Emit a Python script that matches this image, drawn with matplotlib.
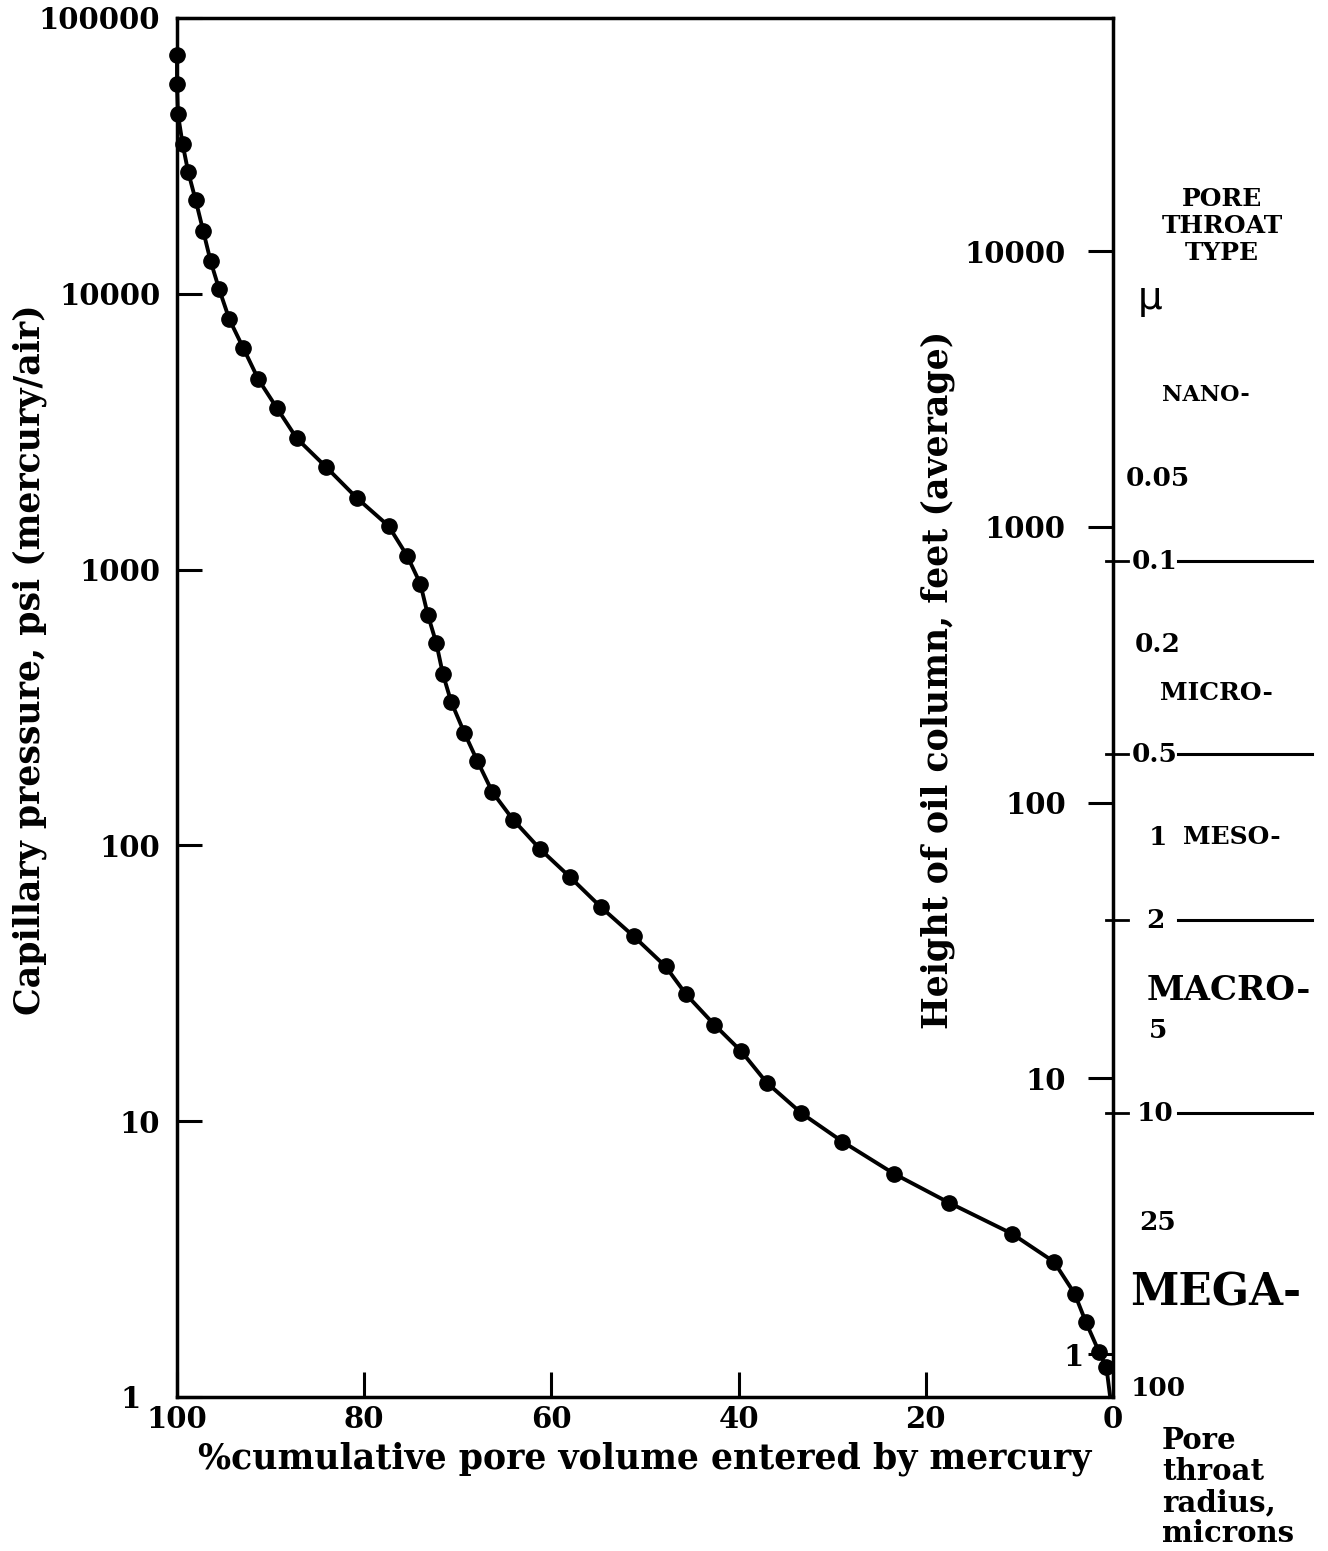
import matplotlib
matplotlib.use("Agg")
import matplotlib.pyplot as plt
import matplotlib.transforms as mtransforms
from matplotlib.lines import Line2D

# ---------------- data ----------------
saturation = [100, 100, 99.9, 99.4, 98.8, 98.0, 97.2, 96.4, 95.5, 94.4, 92.9, 91.3,
              89.3, 87.2, 84.1, 80.8, 77.4, 75.4, 74.0, 73.2, 72.3, 71.6, 70.7, 69.3,
              67.9, 66.3, 64.1, 61.2, 58.0, 54.7, 51.2, 47.8, 45.6, 42.6, 39.7, 37.0,
              33.3, 28.9, 23.4, 17.5, 10.8, 6.3, 4.1, 2.9, 1.5, 0.7, 0.3]
pressure = [73400, 57600, 44800, 34900, 27600, 21800, 16900, 13100, 10400, 8070, 6340,
            4890, 3840, 2990, 2360, 1820, 1440, 1120, 888, 685, 542, 419, 331, 256,
            202, 156, 124, 96.9, 76.7, 59.7, 46.8, 36.4, 28.8, 22.4, 17.9, 13.8,
            10.7, 8.43, 6.45, 5.06, 3.91, 3.09, 2.37, 1.87, 1.46, 1.28, 1.0]

x_ticks = [100, 80, 60, 40, 20, 0]
p_ticks = [1, 10, 100, 1000, 10000, 100000]
h_ticks = [1, 10, 100, 1000, 10000]
height_factor = 0.70          # ft of oil column per psi (Hg/air)
washburn_c = 107.0            # radius (microns) = 107 / Pc

radius_labels = ["0.05", "0.1", "0.2", "0.5", "1", "2", "5", "10", "25", "100"]
radius_lines = [0.1, 0.5, 2, 10]
pore_types = ["NANO-", "MICRO-", "MESO-", "MACRO-", "MEGA-"]
pore_type_radius = [0.025, 0.3, 1.0, 3.6, 45]

# ---------------- style ----------------
FONT = "DejaVu Serif"
plt.rcParams["font.family"] = FONT
plt.rcParams["font.weight"] = "bold"

W, H = 1328, 1551
fig = plt.figure(figsize=(W / 100, H / 100), dpi=100)
L, R, B, T = 177, 1113, 1397, 18
ax = fig.add_axes([L / W, 1 - B / H, (R - L) / W, (B - T) / H])

ax.plot(saturation, pressure, color="black", lw=2.8, marker="o", ms=11,
        markevery=list(range(len(saturation) - 1)), zorder=3, clip_on=False)

ax.set_yscale("log")
ax.set_ylim(1, 100000)
ax.set_xlim(100, 0)
ax.set_xticks(x_ticks)
ax.set_xticklabels([str(v) for v in x_ticks])
ax.set_yticks(p_ticks)
ax.set_yticklabels([str(v) for v in p_ticks])
ax.yaxis.set_minor_locator(matplotlib.ticker.NullLocator())
ax.tick_params(axis="both", direction="in", length=18, width=2.2, labelsize=21)
ax.tick_params(axis="x", pad=6)
ax.tick_params(axis="y", pad=12)
for sp in ax.spines.values():
    sp.set_linewidth(2.5)

# shift the lowest pressure label ("1") left so it clears the "100" x label
lab1 = ax.get_yticklabels()[0]
lab1.set_transform(lab1.get_transform() +
                   mtransforms.ScaledTranslation(-0.2, 0, fig.dpi_scale_trans))

ax.set_xlabel("%cumulative pore volume entered by mercury", fontsize=25,
              fontweight="bold", labelpad=5)
fig.text(30 / W, 1 - 660 / H, "Capillary pressure, psi (mercury/air)", rotation=90,
         ha="center", va="center", fontsize=25, fontweight="bold")

# ---- right axis: height of oil column ----
ax2 = ax.twinx()
ax2.set_yscale("log")
ax2.set_ylim(1 * height_factor, 100000 * height_factor)
ax2.set_yticks(h_ticks)
ax2.set_yticklabels([str(v) for v in h_ticks])
ax2.yaxis.set_minor_locator(matplotlib.ticker.NullLocator())
ax2.tick_params(axis="y", direction="in", length=18, width=2.2, labelsize=21, pad=-34)
for lab in ax2.get_yticklabels():
    lab.set_horizontalalignment("right")
lab_h1 = ax2.get_yticklabels()[0]
lab_h1.set_transform(lab_h1.get_transform() +
                     mtransforms.ScaledTranslation(0.18, 0, fig.dpi_scale_trans))
for sp in ax2.spines.values():
    sp.set_visible(False)
fig.text(938 / W, 1 - 680 / H, "Height of oil column, feet (average)", rotation=90,
         ha="center", va="center", fontsize=25, fontweight="bold")

# ---- pore throat radius scale ----
tr = mtransforms.blended_transform_factory(fig.transFigure, ax.transData)
for lab in radius_labels:
    r = float(lab)
    p = washburn_c / r
    if r in radius_lines:
        ax.add_line(Line2D([1106 / W, 1128 / W], [p, p], transform=tr, color="black",
                           lw=2.0, clip_on=False))
        fig.text(1155 / W, p, lab, transform=tr, ha="center", va="center",
                 fontsize=19, fontweight="bold")
        ax.add_line(Line2D([1178 / W, 1312 / W], [p, p], transform=tr, color="black",
                           lw=2.2, clip_on=False))
    else:
        fig.text(1158 / W, p, lab, transform=tr, ha="center", va="center",
                 fontsize=19, fontweight="bold")

type_sizes = {"NANO-": 16, "MICRO-": 18, "MESO-": 18, "MACRO-": 24.5, "MEGA-": 31.5}
type_x = {"NANO-": 1162, "MICRO-": 1160, "MESO-": 1183, "MACRO-": 1147, "MEGA-": 1130}
for name, r in zip(pore_types, pore_type_radius):
    p = washburn_c / r
    fig.text(type_x[name] / W, p, name, transform=tr, ha="left", va="center",
             fontsize=type_sizes[name], fontweight="bold")

fig.text(1150 / W, washburn_c / 0.0111, "\u03bc", transform=tr, ha="center",
         va="center", fontsize=28, fontweight="normal", family="DejaVu Sans")
fig.text(1222 / W, 1 - 226 / H, "PORE\nTHROAT\nTYPE", ha="center", va="center",
         fontsize=18, fontweight="bold", linespacing=1.15)
fig.text(1162 / W, 1 - 1487 / H, "Pore\nthroat\nradius,\nmicrons", ha="left",
         va="center", fontsize=21, fontweight="bold", linespacing=1.08)

fig.savefig("out.png", dpi=100, facecolor="white")
